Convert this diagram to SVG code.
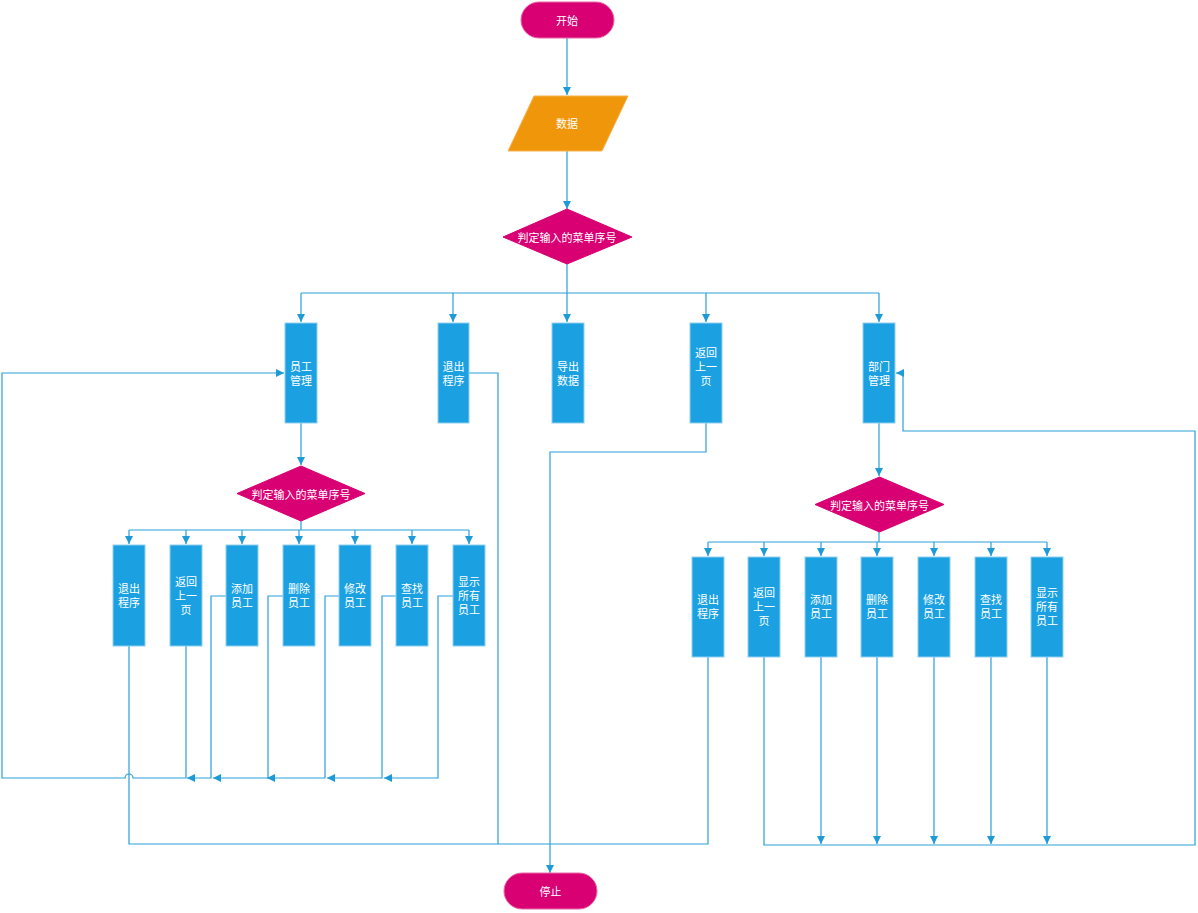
<svg xmlns="http://www.w3.org/2000/svg" width="1198" height="913" viewBox="0 0 1198 913">
<style>
.bg{fill:#ffffff}
.term{fill:#D80073;stroke:#E86AA8;stroke-width:1}
.dec{fill:#D80073;stroke:#D80073;stroke-width:1}
.io{fill:#F0960A;stroke:#F5B350;stroke-width:1}
.box{fill:#1BA1E2;stroke:#8FD0F0;stroke-width:1}
.t{font-family:"Noto Sans CJK SC","Noto Sans",sans-serif;font-size:11px;fill:#ffffff;text-anchor:middle;dominant-baseline:central}
.c{fill:none;stroke:#2A9FD8;stroke-width:1.2}
.a{fill:none;stroke:#2A9FD8;stroke-width:1.2;marker-end:url(#arr)}
</style>
<defs>
<marker id="arr" viewBox="0 0 10 10" refX="10" refY="5" markerWidth="8" markerHeight="8" markerUnits="userSpaceOnUse" orient="auto">
<path d="M0,0 L10,5 L0,10 z" fill="#1E9BD7"/>
</marker>
</defs>
<rect class="bg" x="0" y="0" width="1198" height="913"/>

<g id="connectors">
<path class="a" d="M567,38 V95"/>
<path class="a" d="M567,151 V209"/>
<path class="a" d="M567,264 V322"/>
<path class="c" d="M301,293 H879"/>
<path class="a" d="M301,293 V322"/>
<path class="a" d="M453,293 V322"/>
<path class="a" d="M706,293 V322"/>
<path class="a" d="M879,293 V322"/>
<path class="a" d="M301,423 V465"/>
<path class="c" d="M301,521 V530 M129,530 H469"/>
<path class="a" d="M129,530 V544"/>
<path class="a" d="M186,530 V544"/>
<path class="a" d="M242,530 V544"/>
<path class="a" d="M299,530 V544"/>
<path class="a" d="M355,530 V544"/>
<path class="a" d="M412,530 V544"/>
<path class="a" d="M469,530 V544"/>
<path class="a" d="M186,646 V778 H133 A4,4 0 0 0 125,778 H2 V373 H284"/>
<path class="a" d="M226,596 H211 V778 H187"/>
<path class="a" d="M283,596 H268 V778 H213"/>
<path class="a" d="M339,596 H325 V778 H267"/>
<path class="a" d="M396,596 H382 V778 H327"/>
<path class="a" d="M453,596 H438 V778 H384"/>
<path class="c" d="M129,646 V844 H708 V657"/>
<path class="c" d="M469,373 H498 V844"/>
<path class="a" d="M706,423 V452 H550 V873"/>
<path class="a" d="M879,423 V476"/>
<path class="c" d="M879,532 V542 M708,542 H1047"/>
<path class="a" d="M708,542 V556"/>
<path class="a" d="M764,542 V556"/>
<path class="a" d="M821,542 V556"/>
<path class="a" d="M877,542 V556"/>
<path class="a" d="M934,542 V556"/>
<path class="a" d="M991,542 V556"/>
<path class="a" d="M1047,542 V556"/>
<path class="a" d="M764,657 V845 H1195 V431 H903 V373 H896"/>
<path class="a" d="M821,657 V844"/>
<path class="a" d="M877,657 V844"/>
<path class="a" d="M934,657 V844"/>
<path class="a" d="M991,657 V844"/>
<path class="a" d="M1047,657 V844"/>
</g>

<g id="start"><rect class="term" x="521" y="2" width="93" height="36" rx="18"/><text class="t" x="567" y="20">开始</text></g>
<g id="data"><polygon class="io" points="534,96 628,96 602,151 508,151"/><text class="t" x="567" y="123">数据</text></g>
<g id="decision1"><polygon class="dec" points="567,209 632,237 567,264 503,237"/><text class="t" x="567" y="237">判定输入的菜单序号</text></g>

<g id="emp"><rect class="box" x="285" y="323" width="32" height="100"/><text class="t" x="301" y="366">员工</text><text class="t" x="301" y="380">管理</text></g>
<g id="exit1"><rect class="box" x="438" y="323" width="31" height="100"/><text class="t" x="453.5" y="366">退出</text><text class="t" x="453.5" y="380">程序</text></g>
<g id="export"><rect class="box" x="552" y="323" width="32" height="100"/><text class="t" x="568" y="366">导出</text><text class="t" x="568" y="380">数据</text></g>
<g id="back1"><rect class="box" x="690" y="323" width="32" height="100"/><text class="t" x="706" y="352">返回</text><text class="t" x="706" y="366">上一</text><text class="t" x="706" y="380">页</text></g>
<g id="dept"><rect class="box" x="863" y="323" width="32" height="100"/><text class="t" x="879" y="366">部门</text><text class="t" x="879" y="380">管理</text></g>

<g id="decision2"><polygon class="dec" points="301,466 365,493.5 301,521 237,493.5"/><text class="t" x="301" y="493.5">判定输入的菜单序号</text></g>

<g id="e-exit"><rect class="box" x="113" y="545" width="32" height="101"/><text class="t" x="129" y="588">退出</text><text class="t" x="129" y="602">程序</text></g>
<g id="e-back"><rect class="box" x="170" y="545" width="32" height="101"/><text class="t" x="186" y="581">返回</text><text class="t" x="186" y="595">上一</text><text class="t" x="186" y="609">页</text></g>
<g id="e-add"><rect class="box" x="226" y="545" width="32" height="101"/><text class="t" x="242" y="588">添加</text><text class="t" x="242" y="602">员工</text></g>
<g id="e-del"><rect class="box" x="283" y="545" width="32" height="101"/><text class="t" x="299" y="588">删除</text><text class="t" x="299" y="602">员工</text></g>
<g id="e-mod"><rect class="box" x="339" y="545" width="32" height="101"/><text class="t" x="355" y="588">修改</text><text class="t" x="355" y="602">员工</text></g>
<g id="e-find"><rect class="box" x="396" y="545" width="32" height="101"/><text class="t" x="412" y="588">查找</text><text class="t" x="412" y="602">员工</text></g>
<g id="e-show"><rect class="box" x="453" y="545" width="32" height="101"/><text class="t" x="469" y="581">显示</text><text class="t" x="469" y="595">所有</text><text class="t" x="469" y="609">员工</text></g>

<g id="decision3"><polygon class="dec" points="879.5,477 944,504.5 879.5,532 815,504.5"/><text class="t" x="879.5" y="504.5">判定输入的菜单序号</text></g>

<g id="d-exit"><rect class="box" x="692" y="557" width="32" height="100"/><text class="t" x="708" y="599">退出</text><text class="t" x="708" y="613">程序</text></g>
<g id="d-back"><rect class="box" x="748" y="557" width="32" height="100"/><text class="t" x="764" y="592">返回</text><text class="t" x="764" y="606">上一</text><text class="t" x="764" y="620">页</text></g>
<g id="d-add"><rect class="box" x="805" y="557" width="32" height="100"/><text class="t" x="821" y="599">添加</text><text class="t" x="821" y="613">员工</text></g>
<g id="d-del"><rect class="box" x="861" y="557" width="32" height="100"/><text class="t" x="877" y="599">删除</text><text class="t" x="877" y="613">员工</text></g>
<g id="d-mod"><rect class="box" x="918" y="557" width="32" height="100"/><text class="t" x="934" y="599">修改</text><text class="t" x="934" y="613">员工</text></g>
<g id="d-find"><rect class="box" x="975" y="557" width="32" height="100"/><text class="t" x="991" y="599">查找</text><text class="t" x="991" y="613">员工</text></g>
<g id="d-show"><rect class="box" x="1031" y="557" width="32" height="100"/><text class="t" x="1047" y="592">显示</text><text class="t" x="1047" y="606">所有</text><text class="t" x="1047" y="620">员工</text></g>

<g id="stop"><rect class="term" x="504" y="873" width="93" height="36" rx="18"/><text class="t" x="550.5" y="891">停止</text></g>
</svg>
